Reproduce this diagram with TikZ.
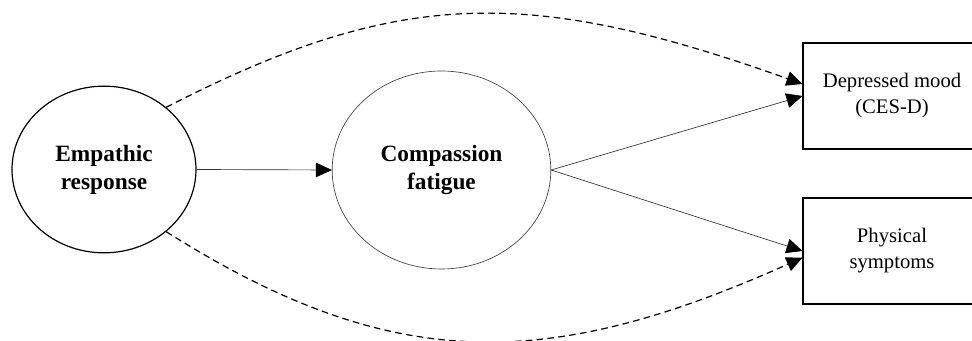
\documentclass[tikz,border=0pt]{standalone}
\usepackage{fontspec}
\setmainfont{Liberation Serif}
\usetikzlibrary{shapes.geometric,arrows.meta}

\tikzset{
  construct/.style={ellipse, draw, inner sep=0pt, align=center,
    font=\bfseries\fontsize{17.5}{21}\selectfont},
  measure/.style={rectangle, draw=black, line width=0.8pt, inner sep=0pt,
    minimum width=133.5pt, minimum height=79.5pt, align=center,
    font=\fontsize{15.5}{19.5}\selectfont},
  tip/.style={-{Triangle[length=12pt,width=11pt,color=black]}},
  path/.style={tip, draw=black!80, line width=0.5pt},
  direct/.style={tip, draw=black, line width=0.9pt, dash pattern=on 5pt off 3.2pt}
}

\begin{document}
\begin{tikzpicture}[x=0.75pt, y=-0.75pt]
  \useasboundingbox (0,0) rectangle (972,341);

  % constructs
  \node[construct, line width=0.9pt, minimum width=138pt, minimum height=125pt]
    (emp) at (104,169.5) {Empathic\\response};
  \node[construct, draw=black!75, line width=0.5pt, minimum width=164pt, minimum height=148.5pt]
    (cf) at (441.5,170) {Compassion\\fatigue};

  % outcomes
  \node[measure] (dep) at (892,96) {Depressed mood\\(CES-D)};
  \node[measure] (phy) at (892,251) {Physical\\symptoms};

  % arrival points on the outcome boxes
  \coordinate (depS) at (dep.west);
  \coordinate (depD) at ([yshift=9pt]dep.west);
  \coordinate (phyS) at (phy.west);
  \coordinate (phyD) at ([yshift=-5pt]phy.west);

  % mediated paths
  \draw[path] (emp.east) -- (cf.west);
  \draw[path] (cf.east) -- (depS);
  \draw[path] (cf.east) -- (phyS);

  % direct paths
  \draw[direct] (emp.45) .. controls (400,-13) and (530,-13) .. (depD);
  \draw[direct] (emp.-45) .. controls (390,373) and (545,373) .. (phyD);
\end{tikzpicture}
\end{document}
